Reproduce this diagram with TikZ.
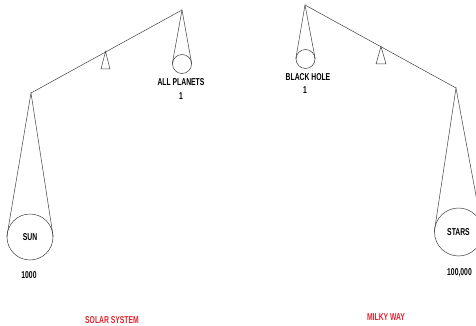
\documentclass[tikz,border=0pt]{standalone}
\usepackage{fontspec}
\newfontfamily\lblfont[FakeStretch=0.68]{Liberation Sans Bold}
\usetikzlibrary{calc}
\definecolor{titlered}{RGB}{225,35,45}

\begin{document}
\begin{tikzpicture}[x=1pt,y=-1pt]
        % canvas in pixels, y downwards
        \useasboundingbox (0,0) rectangle (476,326);
        \tikzset{
            wire/.style={line width=0.5pt,draw=black!75},
            pan/.style={circle,wire,inner sep=0pt},
            lbl/.style={font=\lblfont\fontsize{10}{12}\selectfont,inner sep=0pt},
            title/.style={lbl,text=titlered}
        }

        % left balance (solar system)
        \coordinate (L1) at (31,93);
        \coordinate (L2) at (182,10);
        \coordinate (LF) at (105.5,51.5);
        \draw[wire] (L1) -- (L2);
        \draw[wire] (LF) -- (101,69) -- (110,69) -- cycle;

        \node[pan,minimum size=19pt] (planets) at (182,64) {};
        \draw[wire] (planets.west) -- (L2) -- (planets.east);
        \node[lbl] (planetsname) at (181,82) {ALL PLANETS};
        \node[lbl] (planetsnum) at (181,96) {1};

        \node[pan,minimum size=46pt,lbl] (sun) at (30,237) {SUN};
        \draw[wire] (sun.west) -- (L1) -- (sun.east);
        \node[lbl] (sunnum) at (29,275) {1000};

        \node[title] (solar) at (112,320.5) {SOLAR SYSTEM};

        % right balance (milky way)
        \coordinate (R1) at (305,5);
        \coordinate (R2) at (456,88);
        \coordinate (RF) at (381,46.5);
        \draw[wire] (R1) -- (R2);
        \draw[wire] (RF) -- (376,64) -- (386,64) -- cycle;

        \node[pan,minimum size=19pt] (hole) at (305.5,59) {};
        \draw[wire] (hole.west) -- (R1) -- (hole.east);
        \node[lbl] (holename) at (308,77) {BLACK HOLE};
        \node[lbl] (holenum) at (305,90) {1};

        \node[pan,minimum size=48pt,lbl] (stars) at (458.5,232) {STARS};
        \draw[wire] (stars.west) -- (R2) -- (stars.east);
        \node[lbl] (starsnum) at (459.5,273) {100,000};

        \node[title] (milky) at (386,317) {MILKY WAY};
    \end{tikzpicture}
\end{document}
